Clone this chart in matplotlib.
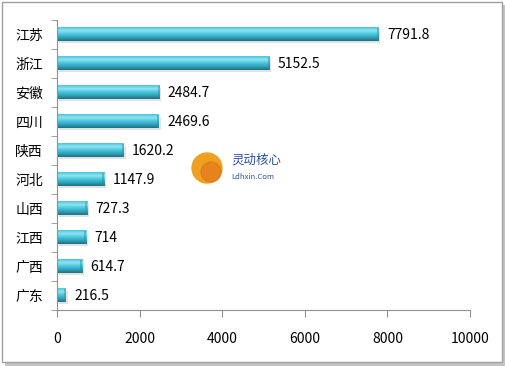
import numpy as np
import matplotlib.pyplot as plt
from matplotlib.patches import Rectangle, Ellipse
from matplotlib.colors import LinearSegmentedColormap

plt.rcParams['font.family'] = ['Noto Sans CJK SC', 'DejaVu Sans']

provinces = ['江苏', '浙江', '安徽', '四川', '陕西', '河北', '山西', '江西', '广西', '广东']
values = [7791.8, 5152.5, 2484.7, 2469.6, 1620.2, 1147.9, 727.3, 714, 614.7, 216.5]
value_labels = ['7791.8', '5152.5', '2484.7', '2469.6', '1620.2', '1147.9', '727.3', '714', '614.7', '216.5']
xticks = [0, 2000, 4000, 6000, 8000, 10000]

W, H = 506, 366
fig = plt.figure(figsize=(W / 100, H / 100), dpi=100)
ax = fig.add_axes([57 / W, 1 - 310 / H, 413 / W, 290 / H])

# gradient for cylinder look (top light, bottom dark)
cmap = LinearSegmentedColormap.from_list('cyl', ['#1f6f80', '#2fa2ba', '#4cc6dc', '#8be6f4', '#4fc3da'])
grad = np.linspace(0, 1, 64).reshape(-1, 1)

ypos = np.arange(len(provinces))[::-1]
bh = 0.46
for y, v, lab in zip(ypos, values, value_labels):
    # soft shadow under the bar
    ax.add_patch(Rectangle((40, y - bh / 2 - 0.08), v, bh, color='#e2e2e2', lw=0, zorder=1))
    ax.imshow(grad, extent=[0, v, y - bh / 2, y + bh / 2], cmap=cmap, aspect='auto',
              origin='lower', zorder=2, interpolation='bilinear')
    ax.add_patch(Rectangle((max(v - 50, 0), y - bh / 2), min(50, v), bh, color='#2a8a9e', alpha=0.45, lw=0, zorder=3))
    ax.text(v + 200, y - 0.02, lab, va='center', ha='left', fontsize=10, color='black', zorder=4)

ax.set_xlim(0, 10000)
ax.set_ylim(-0.5, len(provinces) - 0.5)
ax.set_xticks(xticks)
ax.set_xticklabels([str(t) for t in xticks], fontsize=10)
ax.set_yticks(ypos)
ax.set_yticklabels(provinces, fontsize=10)
ax.set_yticks(np.arange(-0.5, len(provinces), 1), minor=True)
ax.tick_params(axis='y', which='major', length=0, pad=10)
ax.tick_params(axis='y', which='minor', length=4, color='#909090', direction='out')
ax.tick_params(axis='x', length=5, color='#909090', direction='out', pad=11)
for s in ['top', 'right']:
    ax.spines[s].set_visible(False)
for s in ['left', 'bottom']:
    ax.spines[s].set_color('#909090')
ax.set_facecolor('none')

# watermark logo
fig.patches.append(Ellipse((207 / W, 1 - 168 / H), 30 / W, 30 / H, transform=fig.transFigure,
                           color='#f0a020', zorder=5))
fig.patches.append(Ellipse((211 / W, 1 - 172 / H), 20 / W, 20 / H, transform=fig.transFigure,
                           color='#e0701a', alpha=0.6, zorder=5))
fig.text(231 / W, 1 - 160 / H, '灵动核心', color='#2a4fa8', fontsize=9, va='center', ha='left')
fig.text(231 / W, 1 - 177 / H, 'Ldhxin.Com', color='#2a4fa8', fontsize=5.5, va='center', ha='left')

# outer frame with shadow
fig.patches.append(Rectangle((5 / W, 0.0), 501 / W, 1 - 5 / H, transform=fig.transFigure,
                             fill=True, color='#c4c4c4', lw=0, zorder=-2))
fig.patches.append(Rectangle((2 / W, 4 / H), 500 / W, 1 - 6 / H, transform=fig.transFigure,
                             facecolor='white', edgecolor='#a0a0a0', lw=1, zorder=-1))

fig.savefig('out.png', dpi=100)
